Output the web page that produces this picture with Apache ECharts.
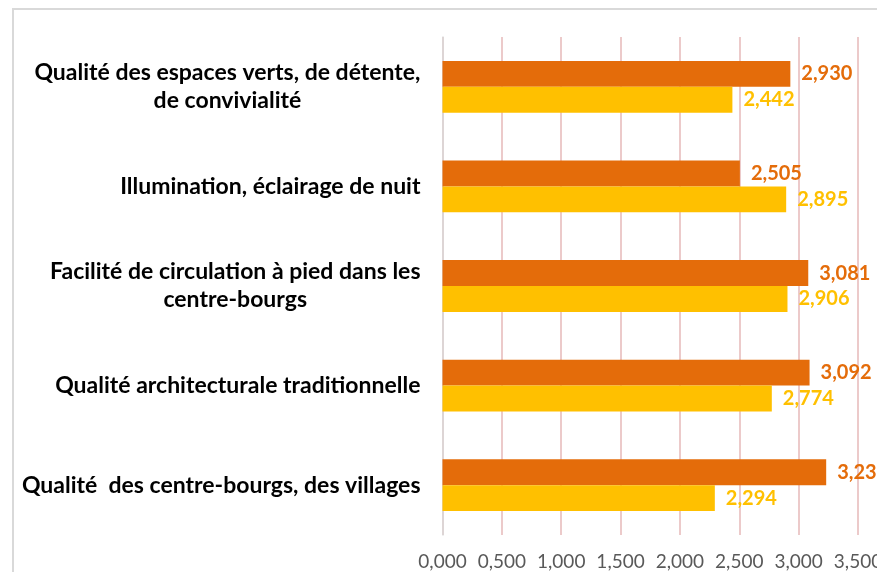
<!DOCTYPE html>
<html>
<head>
<meta charset="utf-8">
<script src="https://cdn.jsdelivr.net/npm/echarts@6/dist/echarts.min.js"></script>
<style>
  html, body { margin: 0; padding: 0; background: #fff; }
  #chart { width: 877px; height: 572px; }
</style>
</head>
<body>
<div id="chart"></div>
<script>
var categories = [
    'Qualité des espaces verts, de détente,\nde convivialité',
    'Illumination, éclairage de nuit',
    'Facilité de circulation à pied dans les\ncentre-bourgs',
    'Qualité architecturale traditionnelle',
    'Qualité  des centre-bourgs, des villages'
];
var serieOrange = [2.930, 2.505, 3.081, 3.092, 3.232];
var serieJaune = [2.442, 2.895, 2.906, 2.774, 2.294];

var ORANGE = '#E46C0A';
var JAUNE = '#FFC000';

function fmt(v) {
    return v.toFixed(3).replace('.', ',');
}

function valueLabel(color) {
    return {
        show: true,
        position: 'right',
        distance: 11,
        color: color,
        fontFamily: 'Lato',
        fontWeight: 'bold',
        fontSize: 20,
        formatter: function (p) { return fmt(p.value); }
    };
}

var myChart = echarts.init(document.getElementById('chart'));

option = {
    backgroundColor: '#fff',
    animation: false,
    graphic: [
        {
            type: 'polyline',
            shape: { points: [[13, 572], [13, 9], [877, 9]] },
            style: { stroke: '#D9D9D9', lineWidth: 2, fill: null },
            silent: true
        }
    ],
    grid: {
        left: 442.5,
        right: 19,
        top: 37,
        bottom: 37,
        outerBoundsMode: 'none'
    },
    xAxis: {
        type: 'value',
        min: 0,
        max: 3.5,
        interval: 0.5,
        axisLine: { show: false },
        axisTick: { show: false },
        splitLine: { show: true, lineStyle: { color: '#E6B9B8', width: 1.5 } },
        axisLabel: {
            color: '#595959',
            fontFamily: 'Lato',
            fontSize: 19,
            margin: 17,
            formatter: function (v) { return fmt(v); }
        }
    },
    yAxis: {
        type: 'category',
        data: categories,
        inverse: true,
        axisLine: { show: true, lineStyle: { color: '#D9D9D9', width: 1.5 } },
        axisTick: { show: false },
        axisLabel: {
            margin: 22,
            align: 'right',
            formatter: function (v) {
                return v.split('\n').map(function (l) { return '{c|' + l + '}'; }).join('\n');
            },
            rich: {
                c: {
                    align: 'center',
                    color: '#000',
                    fontFamily: 'Lato',
                    fontWeight: 'bold',
                    fontSize: 23,
                    lineHeight: 28
                }
            }
        }
    },
    series: [
        {
            name: 'Orange',
            type: 'bar',
            data: serieOrange,
            barGap: '0%',
            barCategoryGap: '48%',
            itemStyle: { color: ORANGE },
            label: valueLabel(ORANGE)
        },
        {
            name: 'Jaune',
            type: 'bar',
            data: serieJaune,
            barGap: '0%',
            barCategoryGap: '48%',
            itemStyle: { color: JAUNE },
            label: valueLabel(JAUNE)
        }
    ]
};

myChart.setOption(option);
</script>
</body>
</html>
